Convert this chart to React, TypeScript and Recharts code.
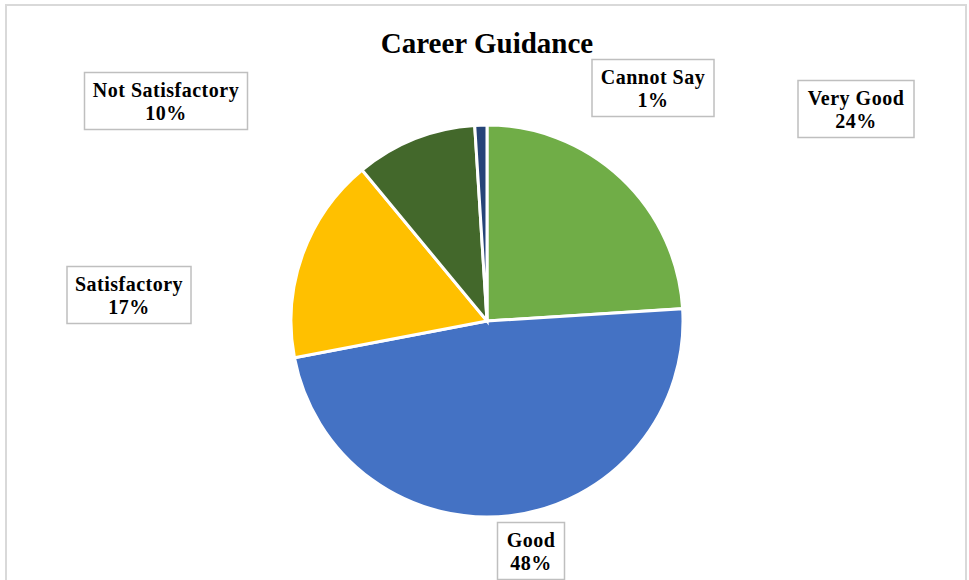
import React from "react";
import { PieChart, Pie, Cell } from "recharts";

const categories = ["Very Good", "Good", "Satisfactory", "Not Satisfactory", "Cannot Say"];
const values = [24, 48, 17, 10, 1];
const colors = ["#70AD47", "#4472C4", "#FFC000", "#43682B", "#264478"];

// label box layout: offset of box centre from pie centre, and box width
const labelDx = [369, 44, -358, -321, 166];
const labelDy = [-212, 230, -26, -220, -233];
const labelW = [116, 67, 124, 163, 122];

const data = categories.map((name, i) => ({ name, value: values[i] }));

const FONT = "'Liberation Serif', 'Times New Roman', serif";

const renderLabel = (props: any) => {
  const { cx, cy, index, name, value } = props;
  const bx = cx + labelDx[index];
  const by = cy + labelDy[index];
  const w = labelW[index];
  const h = 57;
  return (
    <g key={`lbl-${index}`}>
      <rect x={bx - w / 2} y={by - h / 2} width={w} height={h} fill="#FFFFFF" stroke="#BFBFBF" strokeWidth={1.5} />
      <text x={bx} y={by - 4} textAnchor="middle" fontFamily={FONT} fontWeight="bold" fontSize={20} letterSpacing={0.5} fill="#000">
        {name}
      </text>
      <text x={bx} y={by + 19} textAnchor="middle" fontFamily={FONT} fontWeight="bold" fontSize={20} letterSpacing={0.5} fill="#000">
        {value}%
      </text>
    </g>
  );
};

export default function App() {
  return (
    <div style={{ position: "absolute", left: 0, top: 0, width: 969, height: 580, overflow: "hidden", background: "#fff" }}>
      <div style={{ position: "absolute", left: 5, top: 4, width: 962, height: 620, border: "2px solid #D9D9D9", boxSizing: "border-box" }} />
      <div style={{ position: "absolute", left: 0, top: 26, width: 974, textAlign: "center", fontFamily: FONT, fontWeight: "bold", fontSize: 29, lineHeight: "34px", color: "#000" }}>
        Career Guidance
      </div>
      <div style={{ position: "absolute", left: 0, top: 0 }}>
        <PieChart width={969} height={580} margin={{ top: 0, right: 0, bottom: 0, left: 0 }}>
          <Pie
            data={data}
            dataKey="value"
            nameKey="name"
            cx={487}
            cy={321}
            outerRadius={196}
            startAngle={90}
            endAngle={-270}
            stroke="#FFFFFF"
            strokeWidth={3}
            label={renderLabel}
            labelLine={false}
            isAnimationActive={false}
          >
            {data.map((d, i) => (
              <Cell key={d.name} fill={colors[i]} />
            ))}
          </Pie>
        </PieChart>
      </div>
    </div>
  );
}
